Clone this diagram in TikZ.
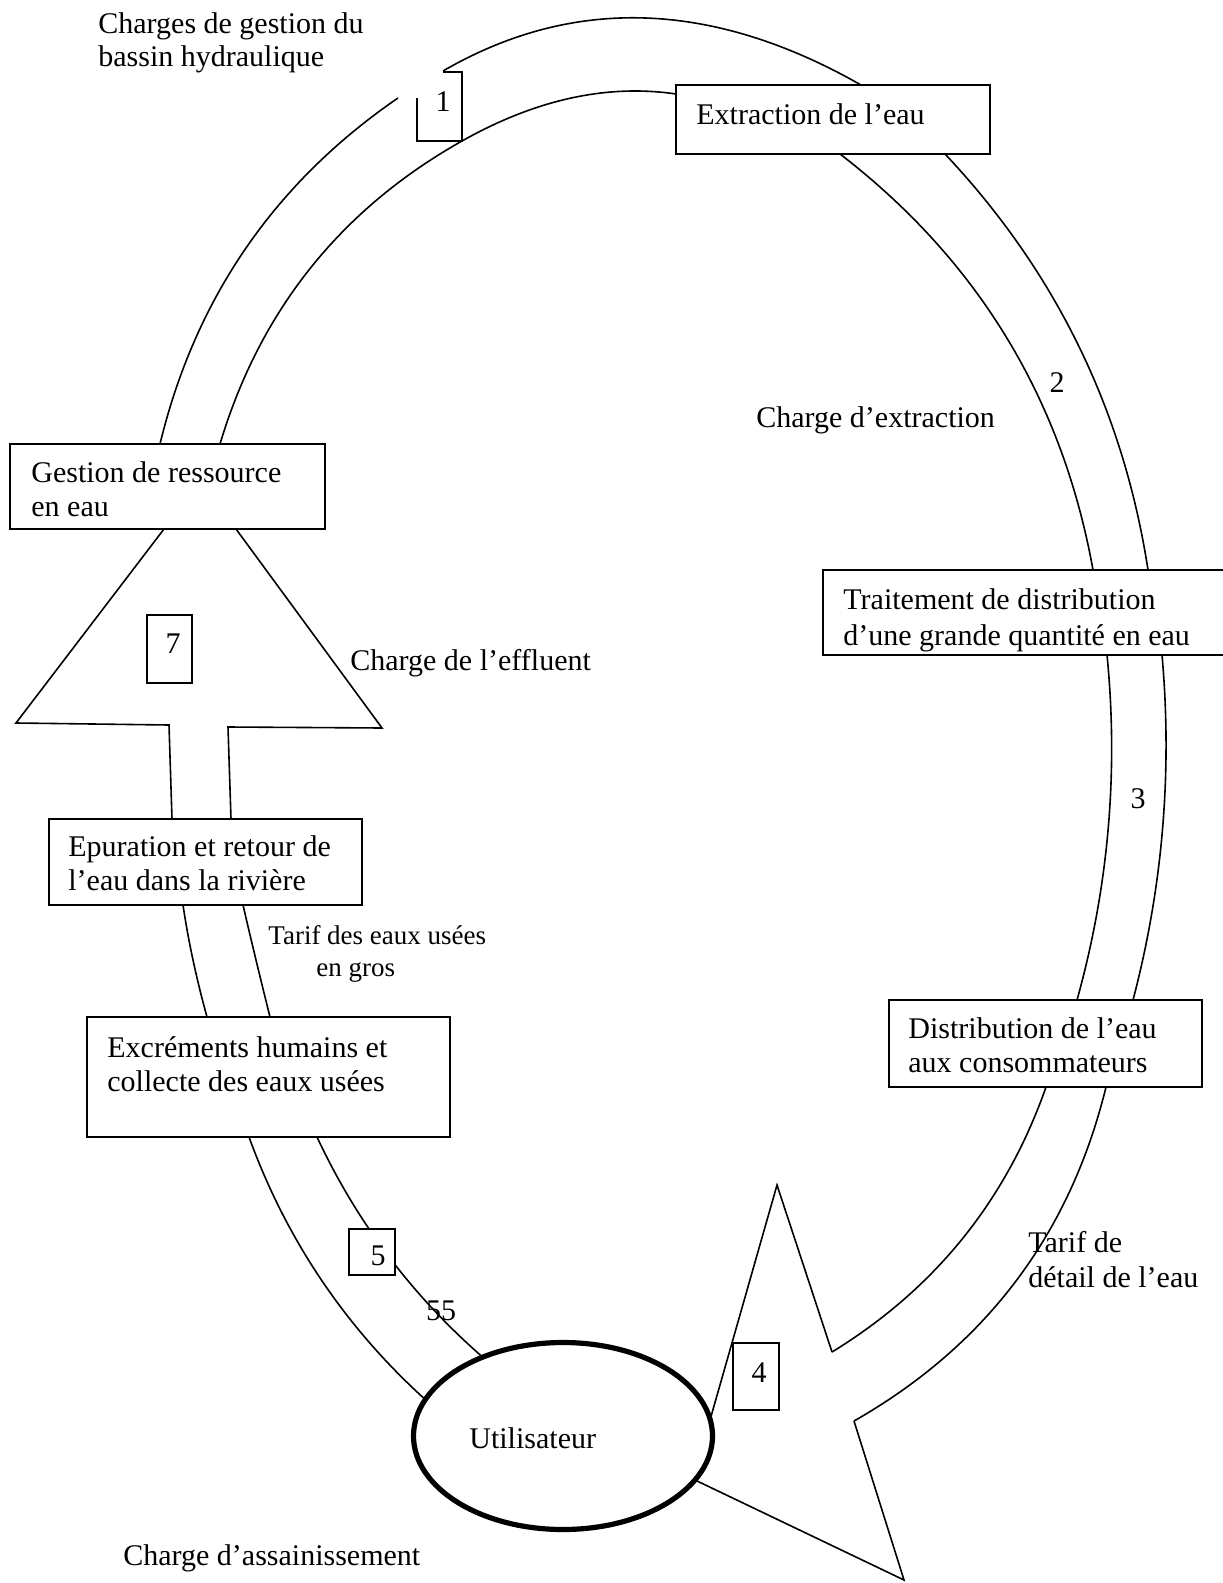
\documentclass[tikz,border=0pt]{standalone}
\usepackage{fontspec}
\setmainfont{Liberation Serif}
\usetikzlibrary{fit,shapes.geometric,calc}
\tikzset{
  ln/.style={line width=0.8pt, line join=miter},
  box/.style={draw, line width=0.8pt, fill=white, inner sep=0pt, rectangle},
  txt/.style={inner sep=0pt, font=\fontsize{15}{17}\selectfont, anchor=base west},
  smalltxt/.style={inner sep=0pt, font=\fontsize{13.5}{15}\selectfont, anchor=base west},
  num/.style={inner sep=0pt, font=\fontsize{15}{17}\selectfont, anchor=base},
  userell/.style={draw, ellipse, line width=2.6pt, fill=white, minimum width=149.5pt, minimum height=93.5pt, inner sep=0pt},
}
% quadratic curve from #1 with control #2 to #3
\newcommand{\qcurve}[3]{\draw[ln] #1 .. controls ($#1!0.6667!#2$) and ($#3!0.6667!#2$) .. #3;}
\begin{document}
\begin{tikzpicture}[x=0.5pt,y=-0.5pt]
\useasboundingbox (0,0) rectangle (1222,1583);
% ---- ring bands ----
% top outer and left outer
\qcurve{(443,71)}{(638,-42)}{(861,85)}
\qcurve{(398,98)}{(213,225)}{(160,444)}
% inner left + top
\qcurve{(220,444)}{(280,243.5)}{(462,141)}
\qcurve{(462,141)}{(572.5,78.75)}{(676,94)}
% right upper
\qcurve{(840,154)}{(1046.7,313.2)}{(1093,570)}
\qcurve{(945,154)}{(1111.1,330.4)}{(1148,570)}
% right middle
\qcurve{(1107,655)}{(1124.3,830.3)}{(1077,1000)}
\qcurve{(1162,655)}{(1177.6,830)}{(1133,1000)}
% right lower
\qcurve{(1046,1087)}{(986.2,1257.5)}{(832,1352)}
\qcurve{(1106,1087)}{(1051.8,1308.2)}{(854,1421)}
% star arrow (4)
\draw[ln] (710,1420) -- (777,1185) -- (832,1352);
\draw[ln] (854,1421) -- (904,1580) -- (695,1480);
% lower left
\qcurve{(249,1137)}{(305.3,1291.9)}{(428,1402)}
\qcurve{(317,1137)}{(377.5,1266.5)}{(486,1360)}
% left middle
\qcurve{(183,905)}{(191,959)}{(207,1017)}
\qcurve{(243,905)}{(255.5,959)}{(270,1017)}
% effluent arrow (7)
\draw[ln] (164,529) -- (16,723) -- (169,725) -- (172,819);
\draw[ln] (236,529) -- (382,728) -- (228,727) -- (231,819);
% box 1 (partial)
\draw[ln] (417,98) -- (417,141) -- (462,141) -- (462,72) -- (443,72);
% ---- boxes ----
\node[box, fit={(676,85) (990,154)}] (extr) {};
\node[box, fit={(823,570) (1240,655)}] (trait) {};
\node[box, fit={(889,1000) (1202,1087)}] (distr) {};
\node[box, fit={(87,1017) (450,1137)}] (excr) {};
\node[box, fit={(49,819) (362,905)}] (epur) {};
\node[box, fit={(10,444) (325,529)}] (gest) {};
\node[box, fit={(147,615) (192,683)}] (b7) {};
\node[box, fit={(349,1229) (395,1275)}] (b5) {};
\node[box, fit={(733,1343) (779,1410)}] (b4) {};
\node[userell] (user) at (563,1436) {};
% ---- texts ----
\node[txt] (t1a) at (98,34) {Charges de gestion du};
\node[txt] (t1b) at (98,67) {bassin hydraulique};
\node[txt] (extrT) at (696,125) {Extraction de l’eau};
\node[num] (n1) at (443,112) {1};
\node[txt] (chExt) at (756,427) {Charge d’extraction};
\node[num] (n2) at (1057,393) {2};
\node[txt] (gestA) at (31,482) {Gestion de ressource};
\node[txt] (gestB) at (31,516) {en eau};
\node[num] (n7) at (173,653) {7};
\node[txt] (chEff) at (350,670) {Charge de l’effluent};
\node[txt] (traitA) at (843,609) {Traitement de distribution};
\node[txt] (traitB) at (843,645) {d’une grande quantité en eau};
\node[num] (n3) at (1138,808) {3};
\node[txt] (epA) at (68,856) {Epuration et retour de};
\node[txt] (epB) at (68,890) {l’eau dans la rivière};
\node[smalltxt] (tarA) at (268,944) {Tarif des eaux usées};
\node[smalltxt] (tarB) at (316,976) {en gros};
\node[txt] (exA) at (107,1057) {Excréments humains et};
\node[txt] (exB) at (107,1091) {collecte des eaux usées};
\node[txt] (diA) at (908,1038) {Distribution de l’eau};
\node[txt] (diB) at (908,1072) {aux consommateurs};
\node[txt] (tdA) at (1028,1252) {Tarif de};
\node[txt] (tdB) at (1028,1287) {détail de l’eau};
\node[num] (n5) at (378,1265) {5};
\node[num] (n55) at (441,1320) {55};
\node[num] (n4) at (759,1382) {4};
\node[txt] (userT) at (469,1448) {Utilisateur};
\node[txt] (chAss) at (123,1565) {Charge d’assainissement};
\end{tikzpicture}
\end{document}
